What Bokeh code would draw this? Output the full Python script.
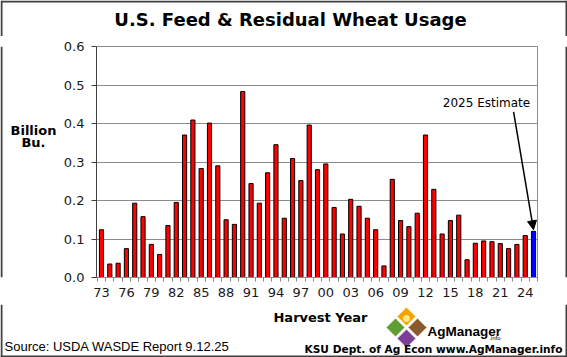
from bokeh.plotting import figure
from bokeh.layouts import row, column
from bokeh.models import (Range1d, FixedTicker, PrintfTickFormatter, Label, Arrow,
                          NormalHead, ColumnDataSource)
from bokeh.core.properties import value
from bokeh.embed import file_html
from bokeh.resources import INLINE

# ---------------- data ----------------
years = list(range(1973, 2026))
usage = [0.124, 0.035, 0.037, 0.075, 0.193, 0.158, 0.086, 0.060, 0.135, 0.195,
         0.370, 0.409, 0.283, 0.401, 0.290, 0.150, 0.138, 0.483, 0.244, 0.193,
         0.272, 0.345, 0.154, 0.309, 0.252, 0.396, 0.280, 0.295, 0.182, 0.113,
         0.203, 0.185, 0.154, 0.124, 0.030, 0.255, 0.148, 0.132, 0.167, 0.370,
         0.229, 0.113, 0.148, 0.162, 0.046, 0.089, 0.095, 0.093, 0.088, 0.075,
         0.086, 0.109, 0.120]
estimate_year = 2025
y_ticks = [0.0, 0.1, 0.2, 0.3, 0.4, 0.5, 0.6]
x_label_years = years[::3]
x_tick_labels = {y: f"{y % 100:02d}" for y in x_label_years}

title_text = "U.S. Feed & Residual Wheat Usage"
y_title_lines = ["Billion", "Bu."]
x_title = "Harvest Year"
source_text = "Source:  USDA WASDE Report 9.12.25"
credit_text = "KSU Dept. of Ag Econ www.AgManager.info"
note_text = "2025 Estimate"
logo_text = "AgManager"

# ---------------- geometry (canvas px) ----------------
W, H = 567, 357
TOP_H = 36          # title strip
FOOT_Y = 304        # footer starts
LEFT_W = 60         # left strip (y title)
FL, FR, FT, FB = 95, 538, 46, 277   # chart frame edges
BORDER = "#404040"


def strip(w, h):
    f = figure(width=w, height=h, output_backend="svg", toolbar_location=None,
               x_range=Range1d(0, w), y_range=Range1d(h, 0),
               min_border_left=0, min_border_right=0, min_border_top=0,
               min_border_bottom=0)
    f.axis.visible = False
    f.grid.visible = False
    f.outline_line_color = None
    f.background_fill_color = "white"
    f.border_fill_color = "white"
    return f


def txt(f, x, y, s, size, bold=False, align="center", baseline="middle",
        font="DejaVu Sans"):
    f.text(x=[x], y=[y], text=[s], text_font=value(font),
           text_font_size=value(f"{size}px"),
           text_font_style="bold" if bold else "normal",
           text_align=align, text_baseline=baseline, text_color="black")


def edge(f, xs, ys):
    f.line(x=xs, y=ys, line_color=BORDER, line_width=2)


# ---------------- title strip ----------------
top = strip(W, TOP_H)
txt(top, 290, 19, title_text, 18, bold=True)
edge(top, [1, W - 1], [1, 1])
edge(top, [1, 1], [0, TOP_H])
edge(top, [W - 1, W - 1], [0, TOP_H])

MID_H = FOOT_Y - TOP_H

# ---------------- left strip ----------------
left = strip(LEFT_W, MID_H)
txt(left, 33, 133 - TOP_H, y_title_lines[0], 13, bold=True)
txt(left, 33, 147 - TOP_H, y_title_lines[1], 13, bold=True)
edge(left, [1, 1], [0, MID_H])

# ---------------- right strip ----------------
RIGHT_W = W - FR
right = strip(RIGHT_W, MID_H)
edge(right, [RIGHT_W - 1, RIGHT_W - 1], [0, MID_H])

# ---------------- main chart ----------------
colors = ["#0000FF" if y == estimate_year else "#FF0000" for y in years]
src = ColumnDataSource(dict(x=years, top=usage, color=colors))

p = figure(width=FR - LEFT_W, height=MID_H, output_backend="svg",
           toolbar_location=None,
           x_range=Range1d(years[0] - 0.6, years[-1] + 0.6),
           y_range=Range1d(y_ticks[0], y_ticks[-1]),
           min_border_left=FL - LEFT_W, min_border_right=0,
           min_border_top=FT - TOP_H, min_border_bottom=FOOT_Y - FB)
p.background_fill_color = "white"
p.border_fill_color = "white"
p.outline_line_color = "#8c8c8c"
p.outline_line_width = 1

p.vbar(x="x", top="top", width=0.5, fill_color="color", line_color="black",
       line_width=1, source=src)

p.yaxis.ticker = FixedTicker(ticks=y_ticks)
p.yaxis.formatter = PrintfTickFormatter(format="%.1f")
p.yaxis.axis_line_color = BORDER
p.yaxis.major_tick_line_color = BORDER
p.yaxis.major_tick_out = 5
p.yaxis.major_tick_in = 0
p.yaxis.minor_tick_line_color = None
p.yaxis.major_label_standoff = 7
p.yaxis.major_label_text_font = "DejaVu Sans"
p.yaxis.major_label_text_font_size = "13px"
p.yaxis.major_label_text_color = "#1a1a1a"

p.xaxis.ticker = FixedTicker(ticks=x_label_years,
                             minor_ticks=[y + 0.5 for y in [years[0] - 1] + years])
p.xaxis.major_label_overrides = x_tick_labels
p.xaxis.axis_line_color = "#8c8c8c"
p.xaxis.major_tick_line_color = None
p.xaxis.major_tick_out = 4
p.xaxis.major_tick_in = 0
p.xaxis.minor_tick_line_color = "#8c8c8c"
p.xaxis.minor_tick_out = 4
p.xaxis.minor_tick_in = 0
p.xaxis.major_label_standoff = 6
p.xaxis.major_label_text_font = "DejaVu Sans"
p.xaxis.major_label_text_font_size = "13px"
p.xaxis.major_label_text_color = "#1a1a1a"

p.xgrid.grid_line_color = None
p.ygrid.ticker = FixedTicker(ticks=y_ticks)
p.ygrid.grid_line_color = "#8c8c8c"
p.ygrid.grid_line_width = 1

# estimate note (inside the frame)
p.add_layout(Label(x=485 - FL, y=FB - 102, x_units="screen", y_units="screen",
                   text=note_text, text_font="DejaVu Sans", text_font_size="12px",
                   text_align="center", text_baseline="middle",
                   text_color="black"))
p.add_layout(Arrow(end=NormalHead(size=9, fill_color="black", line_color="black"),
                   x_start=years[-1] - 2.4, y_start=0.43,
                   x_end=years[-1], y_end=usage[-1] + 0.004,
                   line_color="black", line_width=1.5))

# ---------------- footer ----------------
FOOT_H = H - FOOT_Y
foot = strip(W, FOOT_H)

# AgManager logo: four diamonds (drawn first so the texts stay on top)
logo = [((406, 316), "#F2A300"), ((395, 327), "#5E9E32"),
        ((417, 327), "#8A5A2E"), ((406, 338), "#7D3E98")]
r = 9.5
foot.patches(xs=[[cx, cx + r, cx, cx - r] for (cx, cy), _ in logo],
             ys=[[cy - FOOT_Y - r, cy - FOOT_Y, cy - FOOT_Y + r, cy - FOOT_Y]
                 for (cx, cy), _ in logo],
             fill_color=[c for _, c in logo], line_color="white", line_width=1)
foot.circle(x=[406], y=[318 - FOOT_Y], radius=3.5, fill_color="#FFE680",
            line_color=None)

txt(foot, 320, 317 - FOOT_Y, x_title, 13, bold=True, baseline="alphabetic")
txt(foot, 4, 346 - FOOT_Y, source_text, 13, align="left", baseline="alphabetic",
    font="Liberation Sans")
txt(foot, 562, 348 - FOOT_Y, credit_text, 10.6, bold=True, align="right",
    baseline="alphabetic")
txt(foot, 427, 331 - FOOT_Y, logo_text, 13.5, bold=True, align="left",
    baseline="alphabetic", font="Liberation Sans")
txt(foot, 500, 337 - FOOT_Y, ".info", 6, align="right", baseline="alphabetic",
    font="Liberation Sans")

edge(foot, [1, 1], [0, FOOT_H])
edge(foot, [W - 1, W - 1], [0, FOOT_H])
edge(foot, [0, W], [FOOT_H - 1, FOOT_H - 1])

layout = column(top, row(left, p, right), foot)

open("out.html", "w").write(file_html(layout, INLINE))
